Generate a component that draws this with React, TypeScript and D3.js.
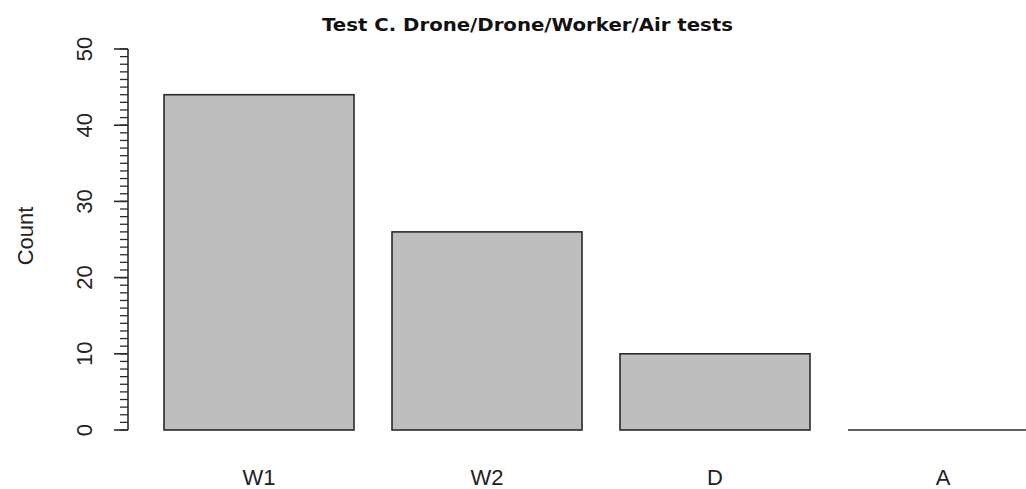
import React from "react";
import * as d3 from "d3";

const categories = ["W1", "W2", "D", "A"];
const counts = [44, 26, 10, 0];
const majorTicks = [0, 10, 20, 30, 40, 50];
const minorTicks = d3.range(0, 51, 1);
const title = "Test C. Drone/Drone/Worker/Air tests";
const yLabel = "Count";

export default function App() {
  const W = 1026;
  const H = 489;
  const x = d3
    .scaleBand<string>()
    .domain(categories)
    .range([126, 1076])
    .paddingInner(1 / 6)
    .paddingOuter(1 / 6);
  const y = d3.scaleLinear().domain([0, 50]).range([430, 49]);
  const axisX = 128;
  const stroke = "#2a2a2a";
  return (
    <div style={{ position: "absolute", left: 0, top: 0 }}>
      <svg width={W} height={H} style={{ display: "block", overflow: "hidden", background: "#fff" }}>
        <text
          x={527.5}
          y={31}
          textAnchor="middle"
          fontFamily="'DejaVu Sans', sans-serif"
          fontWeight="bold"
          fontSize={18}
          textLength={411}
          lengthAdjust="spacingAndGlyphs"
          fill="#111"
        >
          {title}
        </text>
        {categories.map((c, i) => {
          const x0 = x(c)!;
          const bw = x.bandwidth();
          const yt = y(counts[i]);
          const h = y(0) - yt;
          return (
            <g key={c}>
              {h > 0 ? (
                <rect x={x0} y={yt} width={bw} height={h} fill="#bebebe" stroke={stroke} strokeWidth={1.6} />
              ) : (
                <line x1={x0} x2={x0 + bw} y1={yt} y2={yt} stroke={stroke} strokeWidth={1.6} />
              )}
              <text
                x={x0 + bw / 2}
                y={485}
                textAnchor="middle"
                fontFamily="'Liberation Sans', Arial, sans-serif"
                fontSize={22}
                fill="#222"
              >
                {c}
              </text>
            </g>
          );
        })}
        <line x1={axisX} x2={axisX} y1={y(0)} y2={y(50)} stroke={stroke} strokeWidth={1.6} />
        {minorTicks.map((t) => (
          <line key={"m" + t} x1={axisX - 8} x2={axisX} y1={y(t)} y2={y(t)} stroke={stroke} strokeWidth={1.3} />
        ))}
        {majorTicks.map((t) => (
          <g key={"M" + t}>
            <line x1={axisX - 14} x2={axisX} y1={y(t)} y2={y(t)} stroke={stroke} strokeWidth={1.6} />
            <text
              transform={`translate(92,${y(t)}) rotate(-90)`}
              textAnchor="middle"
              fontFamily="'Liberation Sans', Arial, sans-serif"
              fontSize={22}
              fill="#222"
            >
              {t}
            </text>
          </g>
        ))}
        <text
          transform={`translate(33,236) rotate(-90)`}
          textAnchor="middle"
          fontFamily="'Liberation Sans', Arial, sans-serif"
          fontSize={22}
          fill="#222"
        >
          {yLabel}
        </text>
      </svg>
    </div>
  );
}
